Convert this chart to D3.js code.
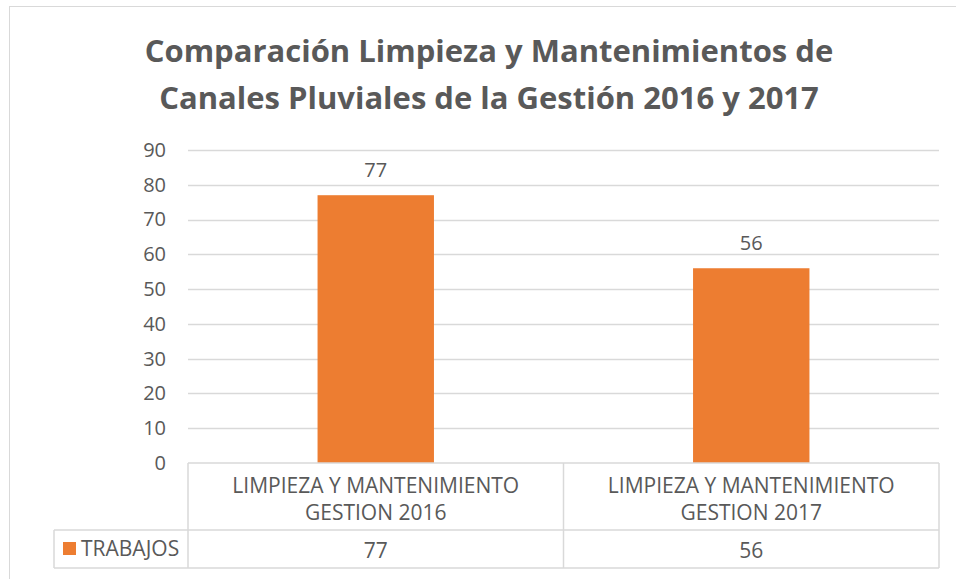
<!DOCTYPE html>
<html>
<head>
<meta charset="utf-8">
<script src="https://cdn.jsdelivr.net/npm/d3@7"></script>
<style>
  body { margin: 0; background: #fff; }
  text { font-family: "Open Sans", "Noto Sans", sans-serif; fill: #595959; }
</style>
</head>
<body>
<script>
// Chart data
const categories = ["LIMPIEZA Y MANTENIMIENTO GESTION 2016", "LIMPIEZA Y MANTENIMIENTO GESTION 2017"];
const categoryLines = [["LIMPIEZA Y MANTENIMIENTO", "GESTION 2016"], ["LIMPIEZA Y MANTENIMIENTO", "GESTION 2017"]];
const seriesName = "TRABAJOS";
const trabajos = [77, 56];
const yTicks = [0, 10, 20, 30, 40, 50, 60, 70, 80, 90];
const titleLines = ["Comparación Limpieza y Mantenimientos de", "Canales Pluviales de la Gestión 2016 y 2017"];

const width = 956;
const height = 579;
const orange = "#ED7D31";
const gridColor = "#d9d9d9";

// Plot area
const plotLeft = 188, plotRight = 939, plotTop = 150, plotBottom = 463;
const rowMid = 530, rowBottom = 568, keyLeft = 54;

const svg = d3.select("body")
    .append("svg")
    .attr("width", width)
    .attr("height", height);

// Chart border
svg.append("rect")
    .attr("x", 9.5).attr("y", 6.5)
    .attr("width", width + 20).attr("height", height + 20)
    .attr("fill", "none")
    .attr("stroke", gridColor);

// Title
svg.append("g").selectAll("text")
    .data(titleLines)
    .join("text")
    .attr("x", 489)
    .attr("y", (d, i) => 62 + i * 47)
    .attr("text-anchor", "middle")
    .style("font-size", "31px")
    .style("font-weight", "bold")
    .text(d => d);

const x = d3.scaleBand()
    .domain(categories)
    .range([plotLeft, plotRight])
    .paddingInner(0.69)
    .paddingOuter(0.345);

const y = d3.scaleLinear()
    .domain([0, 90])
    .range([plotBottom, plotTop]);

// Gridlines
svg.append("g")
    .selectAll("line")
    .data(yTicks.filter(d => d > 0))
    .join("line")
    .attr("x1", plotLeft).attr("x2", plotRight)
    .attr("y1", d => Math.round(y(d)) + 0.5)
    .attr("y2", d => Math.round(y(d)) + 0.5)
    .attr("stroke", gridColor)
    .attr("stroke-width", 1.5);

// Y axis labels
const yAxis = d3.axisLeft(y).tickValues(yTicks).tickSize(0).tickPadding(0);
const yG = svg.append("g")
    .attr("transform", `translate(${166},0)`)
    .call(yAxis);
yG.select(".domain").remove();
yG.selectAll("text")
    .style("font-size", "20px")
    .attr("fill", "#595959");

// Bars
svg.append("g")
    .selectAll("rect")
    .data(trabajos)
    .join("rect")
    .attr("x", (d, i) => x(categories[i]))
    .attr("y", d => y(d))
    .attr("width", x.bandwidth())
    .attr("height", d => y(0) - y(d))
    .attr("fill", orange);

// Data labels
svg.append("g")
    .selectAll("text")
    .data(trabajos)
    .join("text")
    .attr("x", (d, i) => x(categories[i]) + x.bandwidth() / 2)
    .attr("y", d => y(d) - 18)
    .attr("text-anchor", "middle")
    .style("font-size", "20px")
    .text(d => d);

// Data table
const step = (plotRight - plotLeft) / categories.length;
const table = svg.append("g")
    .attr("stroke", gridColor)
    .attr("stroke-width", 1.5);

// horizontal lines
table.append("line").attr("x1", plotLeft).attr("x2", plotRight).attr("y1", plotBottom).attr("y2", plotBottom);
table.append("line").attr("x1", keyLeft).attr("x2", plotRight).attr("y1", rowMid).attr("y2", rowMid);
table.append("line").attr("x1", keyLeft).attr("x2", plotRight).attr("y1", rowBottom).attr("y2", rowBottom);
// vertical lines
table.append("line").attr("x1", keyLeft).attr("x2", keyLeft).attr("y1", rowMid).attr("y2", rowBottom);
table.selectAll(".v")
    .data(d3.range(categories.length + 1))
    .join("line")
    .attr("x1", i => plotLeft + i * step).attr("x2", i => plotLeft + i * step)
    .attr("y1", plotBottom).attr("y2", rowBottom);

// category labels
svg.append("g")
    .selectAll("text")
    .data(categoryLines)
    .join("text")
    .attr("text-anchor", "middle")
    .attr("x", (d, i) => plotLeft + step * (i + 0.5))
    .attr("y", 493)
    .style("font-size", "21px")
    .selectAll("tspan")
    .data(d => d)
    .join("tspan")
    .attr("x", function () { return this.parentNode.getAttribute("x"); })
    .attr("dy", (d, i) => i === 0 ? 0 : 27)
    .text(d => d);

// values row
svg.append("g")
    .selectAll("text")
    .data(trabajos)
    .join("text")
    .attr("text-anchor", "middle")
    .attr("x", (d, i) => plotLeft + step * (i + 0.5))
    .attr("y", 558)
    .style("font-size", "21px")
    .text(d => d);

// legend key
svg.append("rect")
    .attr("x", 63).attr("y", 542)
    .attr("width", 13).attr("height", 13)
    .attr("fill", orange);
svg.append("text")
    .attr("x", 81).attr("y", 556)
    .style("font-size", "21px")
    .text(seriesName);
</script>
</body>
</html>
